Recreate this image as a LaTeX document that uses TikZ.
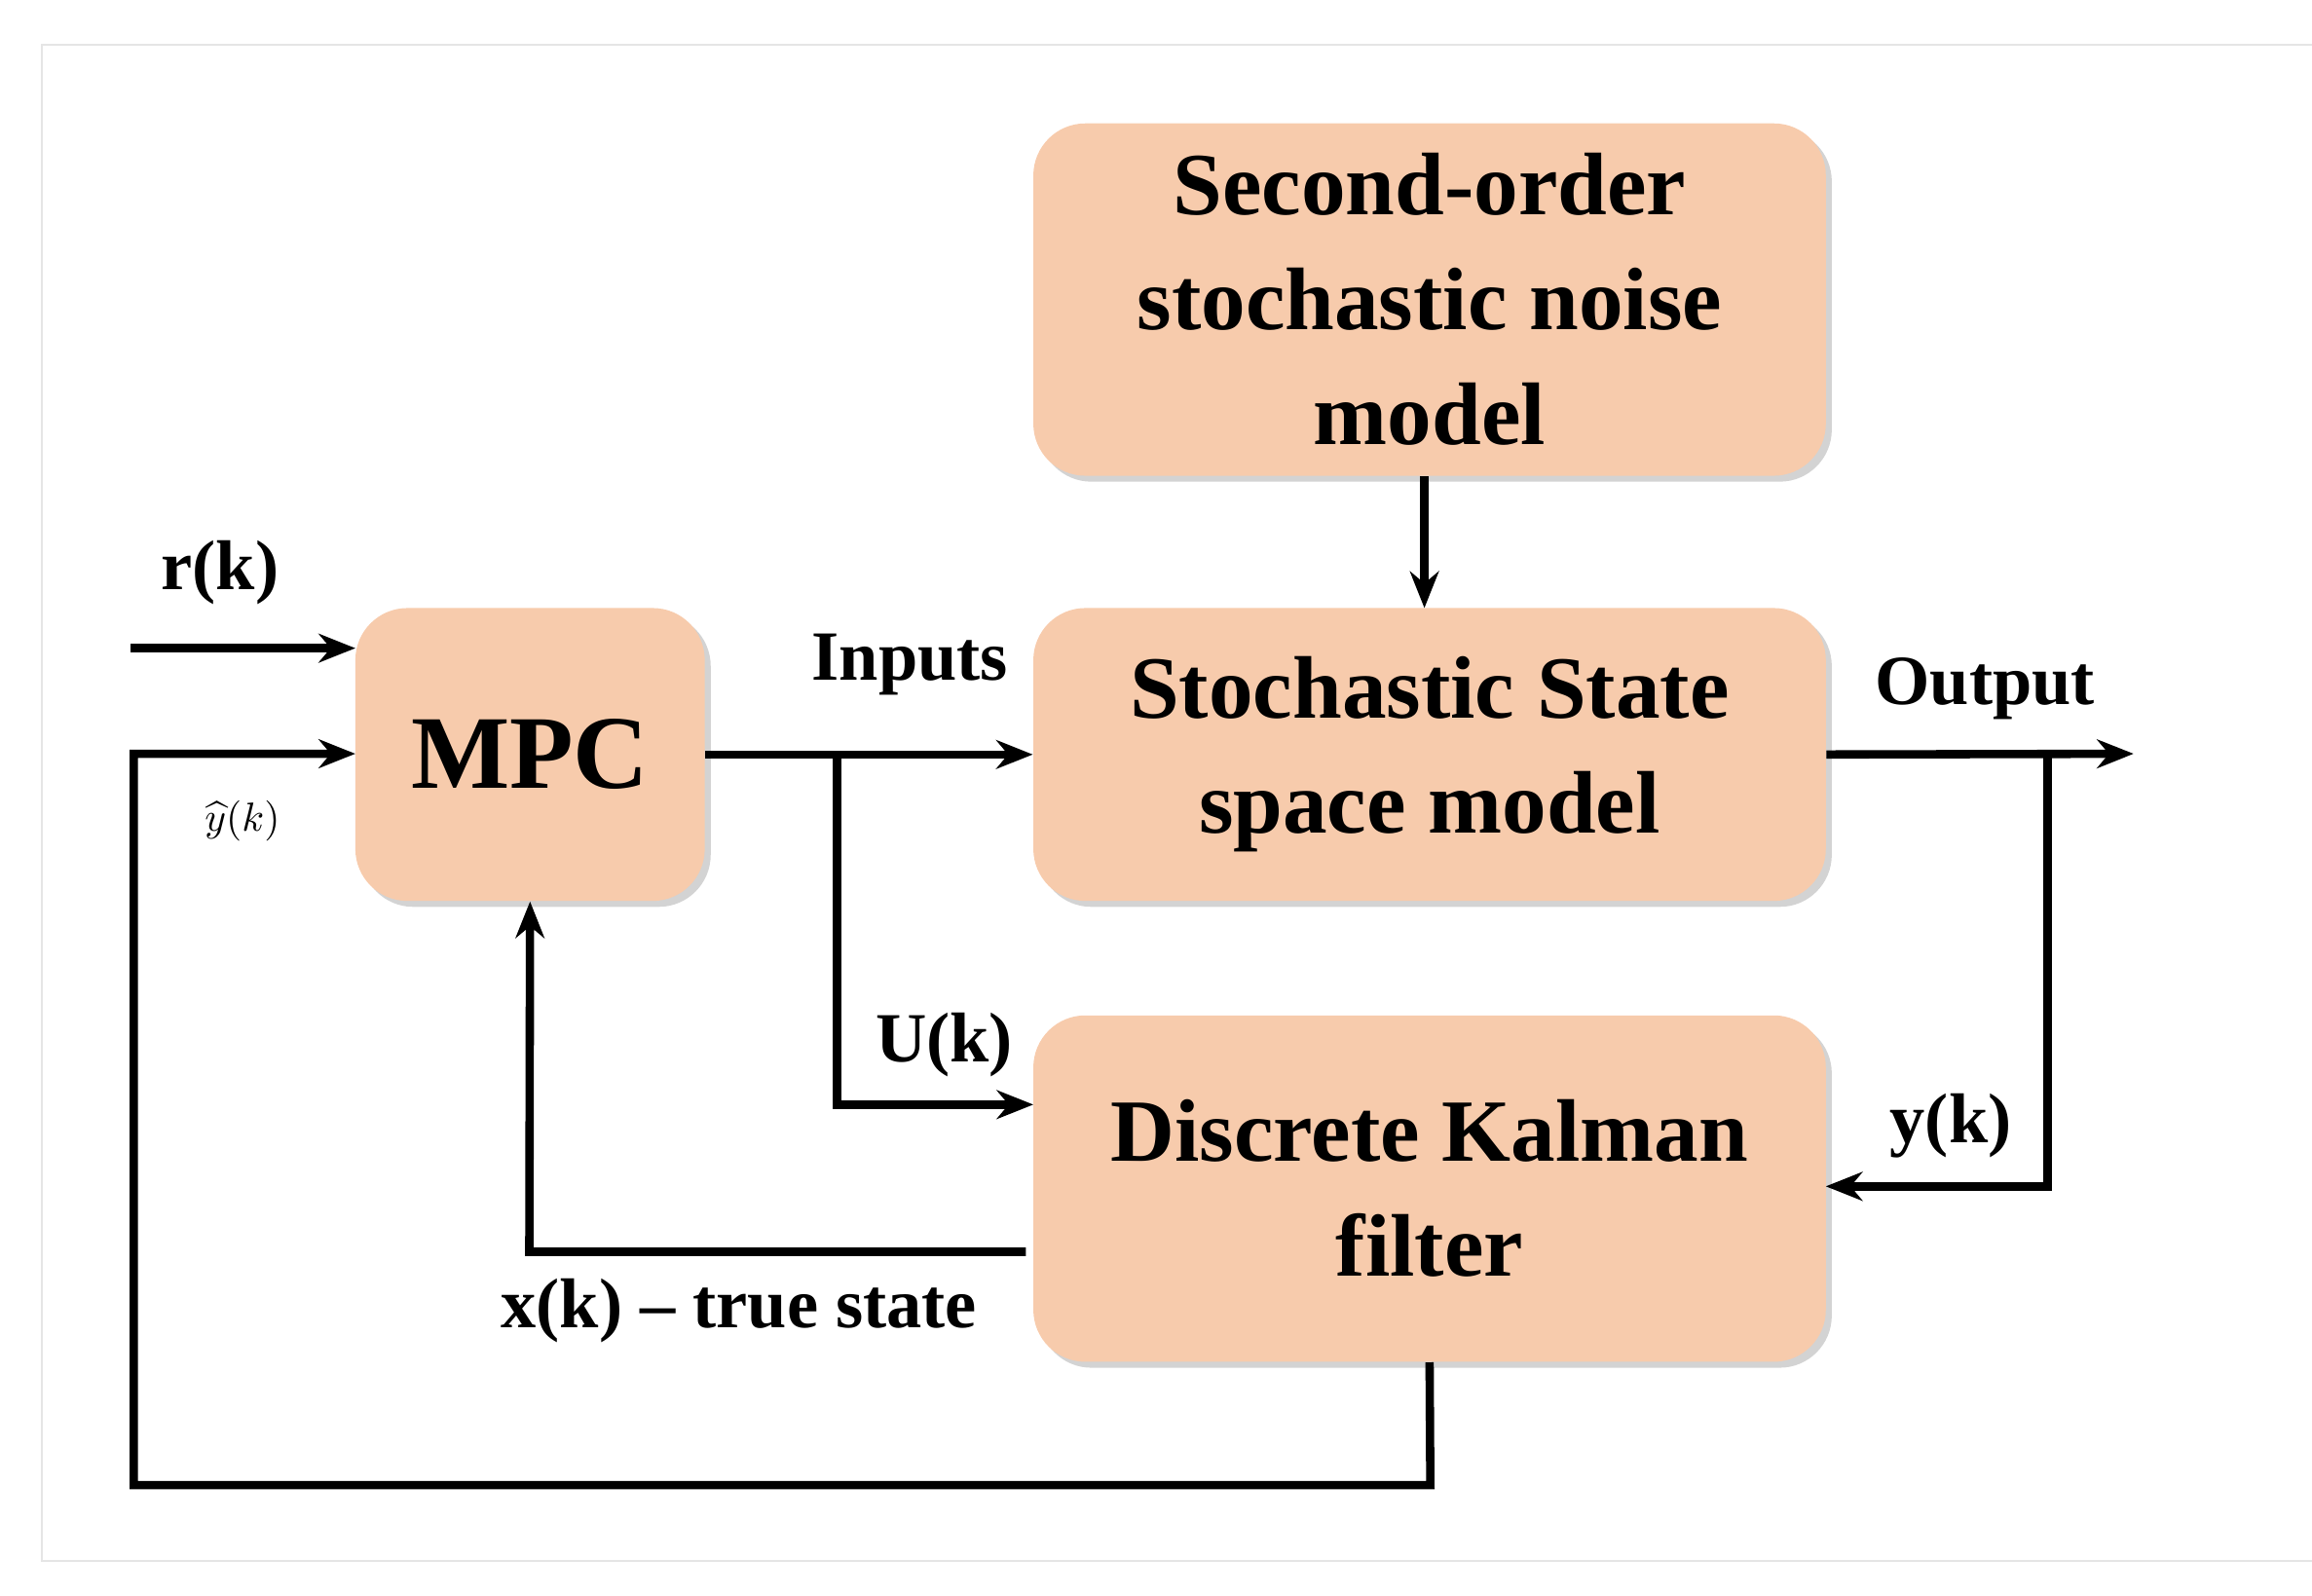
\documentclass[tikz,border=0pt]{standalone}
\usepackage{fontspec}
\usepackage{graphicx}
\setmainfont{Liberation Serif}
\usetikzlibrary{shadows,arrows.meta}
\begin{document}
\begin{tikzpicture}[x=0.02cm,y=-0.02cm,
 box/.style={draw=none,fill=boxc,rounded corners=0.7cm,drop shadow={shadow xshift=0.08cm,shadow yshift=-0.08cm,opacity=0.35},align=center,font=\fontsize{34}{44}\selectfont\bfseries},
 lab/.style={font=\fontsize{27}{30}\selectfont\bfseries},
 ln/.style={line width=3.2pt},
 ar/.style={ln,-{Stealth[length=14pt,width=11pt]}}]
\definecolor{boxc}{RGB}{247,203,172}
\useasboundingbox (0,0) rectangle (1555,1073);
\draw[gray!20,line width=0.6pt] (1555,30) -- (28,30) -- (28,1050) -- (1555,1050);
\node[box,minimum width=533*0.02cm,minimum height=237*0.02cm] (noise) at (961.5,201.5) {Second-order\\stochastic noise\\model};
\node[box,minimum width=533*0.02cm,minimum height=197*0.02cm] (ss) at (961.5,507.5) {Stochastic State\\space model};
\node[box,minimum width=533*0.02cm,minimum height=233*0.02cm] (kf) at (961.5,799.5) {Discrete Kalman\\filter};
\node[box,minimum width=235*0.02cm,minimum height=197*0.02cm,font=\fontsize{40}{44}\selectfont\bfseries] (mpc) at (356.5,507.5) {MPC};
\coordinate (rin) at (88,436);
\coordinate (b1) at (563,507);
\coordinate (b2) at (1377,507);
\coordinate (out) at (1435,507);
\draw[ar] (noise.south -| 958,0) -- (958,409);
\draw[ar] (rin) -- (239,436);
\draw[ar] (mpc.east) -- (ss.west);
\draw[ar] (b1) -- (563,743) -- (695,743);
\draw[ar] (ss.east) -- (out);
\draw[ar] (b2) -- (1377,798) -- (1228,798);
\draw[ar] (690,842) -- (356,842) -- (mpc.south);
\draw[ar] (kf.south) -- (962,999) -- (90,999) -- (90,507) -- (239,507);
\node[lab] (r) at (148,385) {r(k)};
\node[inner sep=0pt] (yh) at (163,552) {\scalebox{1.55}{$\widehat{y}(k)$}};
\node[lab] (in) at (612,447) {Inputs};
\node[lab] (u) at (635,703) {U(k)};
\node[lab] (o) at (1335,463) {Output};
\node[lab] (y) at (1312,757) {y(k)};
\node[lab] (x) at (497,882) {x(k) -- true state};
\end{tikzpicture}
\end{document}
